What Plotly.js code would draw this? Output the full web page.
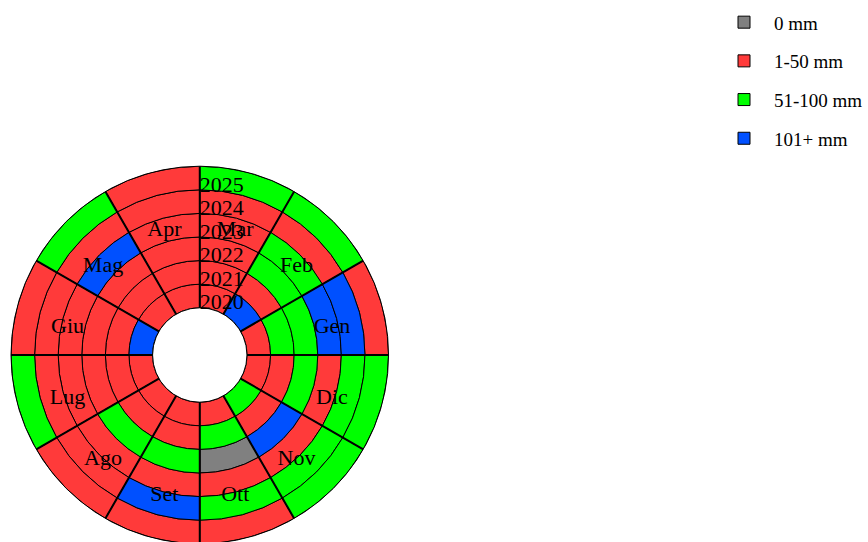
<!DOCTYPE html>
<html>
<head>
<meta charset="utf-8">
<script src="https://cdn.plot.ly/plotly-3.0.1.min.js"></script>
<style>html,body{margin:0;padding:0;overflow:hidden;background:#fff}</style>
</head>
<body>
<div id="chart" style="width:868px;height:552px"></div>
<script>
// Categories
const months = ['Gen','Feb','Mar','Apr','Mag','Giu','Lug','Ago','Set','Ott','Nov','Dic'];
const years = ['2020','2021','2022','2023','2024','2025'];
const classes = ['0 mm','1-50 mm','51-100 mm','101+ mm'];
const classColors = ['#808080','#FF3A3A','#00FF00','#0050FF'];

// Rainfall class index per month (Gen..Dic) for each year (0 = '0 mm', 1 = '1-50 mm', 2 = '51-100 mm', 3 = '101+ mm')
const cls2020 = [1,3,1,1,1,3,1,1,1,1,2,1];
const cls2021 = [2,1,1,1,1,1,1,1,1,2,1,1];
const cls2022 = [2,2,1,1,1,1,1,2,2,0,3,2];
const cls2023 = [3,2,1,1,3,1,1,1,1,1,1,1];
const cls2024 = [3,1,1,1,1,1,1,1,3,2,2,2];
const cls2025 = [1,2,2,1,2,1,2,1,1,1,2,2];
const yearClasses = [cls2020, cls2021, cls2022, cls2023, cls2024, cls2025];

const sector = 360 / months.length;
const monthTheta = months.map((m, i) => i * sector + sector / 2);

const traces = [];
classes.forEach((c, k) => {
  const theta = [], base = [], r = [];
  yearClasses.forEach((arr, yi) => {
    arr.forEach((v, mi) => {
      if (v === k) { theta.push(monthTheta[mi]); base.push(yi); r.push(1); }
    });
  });
  traces.push({
    type: 'barpolar', name: c, legendgroup: c,
    theta: theta, r: r, base: base, width: sector,
    marker: {color: classColors[k], line: {color: '#000', width: 1}},
    hoverinfo: 'skip'
  });
});

// month boundary spokes
const spokeTheta = [], spokeR = [];
months.forEach((m, i) => { spokeTheta.push(i * sector, i * sector, null); spokeR.push(0, years.length, null); });
traces.push({type: 'scatterpolar', mode: 'lines', theta: spokeTheta, r: spokeR,
  line: {color: '#000', width: 2}, showlegend: false, hoverinfo: 'skip'});

// month labels (drawn on an overlaid text layer)
traces.push({type: 'scatterpolar', subplot: 'polar2', mode: 'text', theta: monthTheta, r: months.map(() => 3.8),
  text: months, textposition: 'middle center', textfont: {size: 22, color: '#000'},
  showlegend: false, hoverinfo: 'skip', cliponaxis: false});

// year labels
traces.push({type: 'scatterpolar', subplot: 'polar2', mode: 'text', theta: years.map(() => 90), r: years.map((y, i) => i + 0.5),
  text: years, textposition: 'middle right', textfont: {size: 22, color: '#000'},
  showlegend: false, hoverinfo: 'skip', cliponaxis: false});

const H = 552;
const polarBase = {
  hole: 0.25,
  bgcolor: 'rgba(0,0,0,0)',
  radialaxis: {range: [0, years.length], showticklabels: false, ticks: '', showgrid: false, showline: false},
  angularaxis: {thetaunit: 'degrees', direction: 'counterclockwise', rotation: 0,
    showticklabels: false, ticks: '', showgrid: false, showline: true, linecolor: '#000', linewidth: 1}
};

const layout = {
  width: 868, height: H,
  margin: {l: 0, r: 0, t: 0, b: 0},
  paper_bgcolor: '#fff',
  font: {family: 'Liberation Serif, Times New Roman, serif', color: '#000'},
  showlegend: true,
  legend: {x: 0.8237, y: 0.994, xanchor: 'left', yanchor: 'top', font: {size: 19}, tracegroupgap: 11, itemwidth: 50},
  polar: Object.assign({}, polarBase, {domain: {x: [11/868, 389/868], y: [8/H, 386/H]}}),
  polar2: Object.assign({}, polarBase, {domain: {x: [11/868, 389/868], y: [0, 378/H]},
    angularaxis: Object.assign({}, polarBase.angularaxis, {showline: false})})
};

Plotly.newPlot('chart', traces, layout, {displayModeBar: false, staticPlot: true});
</script>
</body>
</html>
